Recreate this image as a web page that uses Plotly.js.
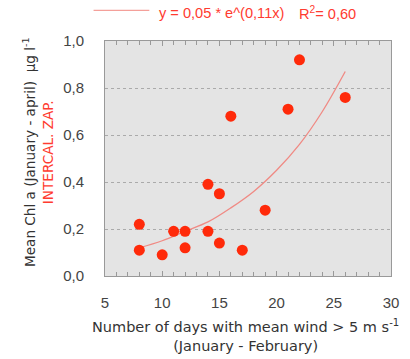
<!DOCTYPE html>
<html><head><meta charset="utf-8">
<script src="https://cdn.plot.ly/plotly-3.0.1.min.js"></script>
<style>html,body{margin:0;padding:0;background:#fff}#chart{width:410px;height:359px}</style>
</head><body><div id="chart"></div>
<script>
const windDays = [8, 8, 10, 11, 12, 12, 14, 14, 15, 15, 16, 17, 19, 21, 22, 26];
const chlA     = [0.22, 0.11, 0.09, 0.19, 0.19, 0.12, 0.39, 0.19, 0.35, 0.14, 0.68, 0.11, 0.28, 0.71, 0.92, 0.76];
const trendX = [8, 10, 12, 14, 16, 18, 20, 22, 24, 26];
const trendY = [0.12, 0.15, 0.19, 0.23, 0.29, 0.36, 0.45, 0.56, 0.70, 0.87];
const xTicks = [5, 10, 15, 20, 25, 30];
const yTicks = [0.0, 0.2, 0.4, 0.6, 0.8, 1.0];
const fitEquation = "y = 0,05 * e^(0,11x)";
const fitR2 = "R<sup>2</sup>= 0,60";
const xTitle = "Number of days with mean wind > 5 m s<sup>-1</sup><br>(January - February)";
const yTitle = "Mean Chl a (January - april)  µg l<sup>-1</sup><br><span style='color:#ff3b30'>INTERCAL. ZAP.</span>";

const FONT = "DejaVu Sans, Verdana, sans-serif";
const SANS = "Liberation Sans, Arial, sans-serif";
const RED = "#ff2a0a";
const data = [
  {x: trendX, y: trendY, mode: "lines", line: {color: "#f08a84", width: 1.3, shape: "spline"}, showlegend: false, hoverinfo: "skip"},
  {x: windDays, y: chlA, mode: "markers", marker: {color: RED, size: 11}, showlegend: false}
];
const layout = {
  width: 410, height: 359,
  margin: {l: 105, r: 19, t: 41, b: 83},
  paper_bgcolor: "#ffffff", plot_bgcolor: "#e4e4e4",
  separators: ",.",
  font: {family: FONT, size: 14, color: "#444"},
  xaxis: {
    range: [5, 30], tickvals: xTicks, ticks: "inside", ticklen: 5, tickcolor: "#999",
    minor: {dtick: 1, ticks: "inside", ticklen: 4, tickcolor: "#999"},
    showline: true, linecolor: "#999", linewidth: 1, mirror: "ticks",
    showgrid: false, zeroline: false, ticklabelstandoff: 13,
    tickfont: {family: SANS, size: 15, color: "#444"}
  },
  yaxis: {
    range: [0, 1.0], tickvals: yTicks, tickformat: ".1f", ticks: "",
    showline: true, linecolor: "#999", linewidth: 1, mirror: true,
    showgrid: true, gridcolor: "#aaa", griddash: "dot", gridwidth: 1, zeroline: false,
    ticklabelstandoff: 17,
    tickfont: {family: SANS, size: 15, color: "#444"}
  },
  shapes: [
    {type: "line", xref: "paper", yref: "paper", x0: -0.04, x1: 0.155, y0: 1.13, y1: 1.13, line: {color: "#f4a09a", width: 1.3}}
  ],
  annotations: [
    {xref: "paper", yref: "paper", x: 0.182, y: 1.12, xanchor: "left", yanchor: "middle", showarrow: false,
     text: fitEquation, font: {family: SANS, size: 14.6, color: "#ff3b30"}},
    {xref: "paper", yref: "paper", x: 0.671, y: 1.12, xanchor: "left", yanchor: "middle", showarrow: false,
     text: fitR2, font: {family: SANS, size: 14.6, color: "#ff3b30"}},
    {xref: "paper", yref: "paper", x: 0.49, y: -0.255, xanchor: "center", yanchor: "middle", showarrow: false,
     text: xTitle, font: {family: FONT, size: 14.5, color: "#333"}},
    {xref: "paper", yref: "paper", x: -0.234, y: 0.528, xanchor: "center", yanchor: "middle", showarrow: false,
     textangle: -90, text: yTitle, font: {family: FONT, size: 13.6, color: "#333"}}
  ]
};
Plotly.newPlot("chart", data, layout, {displayModeBar: false, staticPlot: true});
</script></body></html>
